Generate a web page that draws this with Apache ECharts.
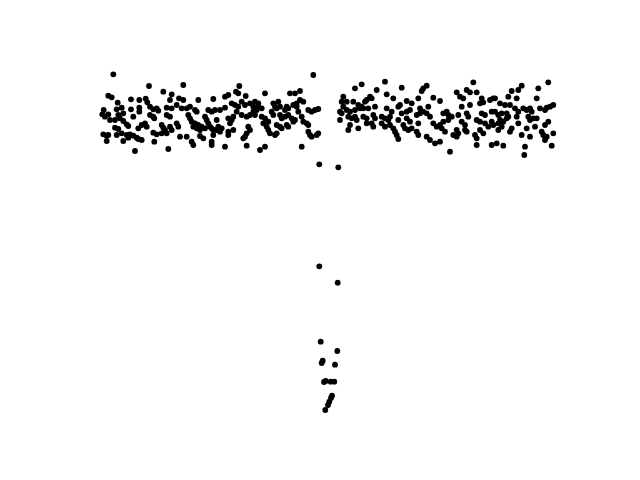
<!DOCTYPE html>
<html>
<head>
<meta charset="utf-8">
<script src="https://cdn.jsdelivr.net/npm/echarts@6/dist/echarts.min.js"></script>
<style>
  html, body { margin: 0; padding: 0; background: #fff; }
  #chart { width: 640px; height: 480px; }
</style>
</head>
<body>
<div id="chart"></div>
<script>
// time from mid-transit (min) and relative flux (ppt)
const beforeTransit = [
  [-214.7, 38.7], [-179, 27], [-219.7, 17.3], [-216.3, 15.7], [-164.7, 21.3], [-156.3, 18.7],
  [-210.3, 10.3], [-197, 13.7], [-188.7, 13], [-182.3, 14.3], [-180.7, 10.7], [-158, 13],
  [-224.3, 3], [-225.7, -1.3], [-223, -3.7], [-219.7, -1.3], [-211.3, 3.7], [-206.3, 5.3],
  [-209.7, -2], [-204.7, -0.3], [-197, 3.7], [-194.7, -3.7], [-188.7, 5.3], [-188.7, 1.3],
  [-178, 6.3], [-174.7, 3.7], [-171.3, 4.7], [-169.7, 2.3], [-161.3, 5.3], [-156.3, 4.7],
  [-178, -2], [-174.7, -3.7], [-173.7, -5.3], [-161.3, -2], [-158, -3.7], [-218, -7],
  [-213, -7], [-208, -5.3], [-204.7, -8], [-201.3, -11.3], [-199.7, -13], [-186.3, -12],
  [-183, -10.3], [-181.3, -13.7], [-189.7, -15.3], [-213, -14.7], [-209.7, -16], [-166.3, -12],
  [-164.7, -14.7], [-163, -17], [-161.3, -20.3], [-166.3, -20.3], [-158, -13.7], [-156.3, -17],
  [-224.7, -21.3], [-221.3, -22.7], [-219.7, -22], [-211.3, -22], [-206.3, -20.3], [-201.3, -22],
  [-198, -21.3], [-194.7, -22.7], [-191.3, -24.7], [-189.7, -26], [-174.7, -19.7], [-171.3, -21.3],
  [-221.3, -28], [-204.7, -28], [-199.7, -24.7], [-186.3, -27], [-173.7, -28.7], [-193, -38],
  [-159.7, -36],
  [-144.7, 28], [-88.7, 27], [-92, 21.3], [-89.7, 19.7], [-82.3, 17], [-99.7, 18],
  [-103, 16.3], [-114.7, 14], [-129.7, 13], [-149, 14.7], [-144.7, 13], [-151.3, 8],
  [-146.3, 4.7], [-141.3, 4.7], [-138, 6.3], [-133, 3], [-131.3, 1.3], [-119.7, 3],
  [-116.3, 1.3], [-113, 3], [-108, 3], [-103, 5.3], [-96.3, 9.7], [-93, 8],
  [-89.7, 6.3], [-86.3, 11.3], [-83, 8], [-78, 9.7], [-74.7, 6.3], [-139.7, -2],
  [-138, -5.3], [-136.3, -8.7], [-133, -10.3], [-129.7, -12], [-126.3, -13.7], [-123, -3.7],
  [-121.3, -7], [-119.7, -10.3], [-118, -13.7], [-116.3, -15.3], [-111.3, -7], [-109.7, -13.7],
  [-106.3, -15.3], [-99.7, -5.3], [-96.3, -7], [-94.7, -3.7], [-98, -10.3], [-91.3, 1.3],
  [-86.3, -2], [-81.3, -3.7], [-78, -2], [-74.7, 1.3], [-151.3, -10.3], [-149.7, -13.7],
  [-134.7, -13.7], [-131.3, -15.3], [-128, -17], [-123, -15.3], [-114.7, -17], [-111.3, -17],
  [-108, -18.7], [-114.7, -22], [-99.7, -18.7], [-94.7, -17], [-99.7, -22], [-79.7, -13.7],
  [-78, -17], [-81.3, -20.3], [-83, -23.7], [-84.7, -25.3], [-148, -23.7], [-141.3, -23.7],
  [-128, -23], [-124.7, -25.3], [-136.3, -28.7], [-134.7, -32], [-116.3, -28.7], [-116.3, -32],
  [-103, -33.7], [-81.3, -32.7],
  [-14.7, 38], [-63, 19.7], [-38, 19.7], [-33, 19.7], [-28, 22], [-73, 11.3],
  [-69.7, 9.7], [-49.7, 11.3], [-54.7, 9.7], [-53, 6.3], [-28, 13], [-24.7, 11.3],
  [-31.3, 9.7], [-69.7, 6.3], [-66.3, 4.7], [-71.3, 3], [-73, -2], [-51.3, 4.7],
  [-48, 6.3], [-41.3, 6.3], [-39.7, 4.7], [-43, 3], [-34.7, 8], [-31.3, 6.3],
  [-29.7, 1.3], [-19.7, 3], [-16.3, 1.3], [-13, 3], [-9.7, 4], [-56.3, 1.3],
  [-54.7, -2], [-66.3, -3.7], [-63, -5.3], [-59.7, -8.7], [-64.7, -10.3], [-61.3, -13.7],
  [-48, -2], [-46.3, -5.3], [-43, -3.7], [-39.7, -2], [-36.3, -5.3], [-33, -7],
  [-34.7, -8.7], [-26.3, -3.7], [-24.7, -8.7], [-21.3, -10.3], [-19.7, -12], [-51.3, -12],
  [-48, -13.7], [-46.3, -15.3], [-41.3, -12], [-39.7, -13.7], [-59.7, -17], [-58, -20.3],
  [-53, -22], [-51.3, -20.3], [-19.7, -18.7], [-18, -22], [-16.3, -23.7], [-9.7, -20.3],
  [-11.3, -22], [-68, -37], [-63, -33.7], [-26.3, -33.7]
]

const inTransit = [
  [-8.7, -51.3], [10.3, -54.3], [-8.7, -153.3], [9.7, -169.7], [-7.3, -228.7], [9.3, -238],
  [-5.3, -247.7], [-6.3, -250], [7, -251.7], [-2.3, -268], [2.7, -268.7], [6.3, -268.7],
  [-4, -269], [4, -282.7], [3, -285], [1.3, -288.7], [0, -292], [-2.7, -297]
]

const afterTransit = [
  [33.7, 28.7], [27, 24.7], [57, 31.3], [73.7, 25.3], [48.7, 23], [58.7, 18.7],
  [15.3, 16.3], [18.7, 11.3], [13.7, 11.3], [15.3, 6.3], [38.7, 13], [42, 16.3],
  [43.7, 14.7], [37, 11.3], [25.3, 11.3], [30.3, 8], [33.7, 6.3], [65.3, 14.7],
  [78.7, 12], [83.7, 9.7], [70.3, 6.3], [72, 8], [47, 6.3], [12, 1.3],
  [13.7, -0.3], [18.7, 3], [22, 1.3], [27, 3], [32, 4.7], [35.3, 4.7],
  [40.3, 4.7], [58.7, 4.7], [63.7, 1.3], [73.7, -0.3], [78.7, 1.3], [82, 3],
  [12, -7], [20.3, -3.7], [23.7, -5.3], [27, -3.7], [28.7, -7], [35.3, -3.7],
  [38.7, -5.3], [45.3, -2], [47, -5.3], [53.7, -3.7], [57, -5.3], [60.3, -7],
  [62, -3.7], [70.3, -7], [78.7, -5.3], [82, -8.7], [22, -12], [30.3, -15.3],
  [38.7, -10.3], [43.7, -10.3], [45.3, -13.7], [53.7, -10.3], [57, -13.7], [62, -12],
  [65.3, -15.3], [67, -18.7], [75.3, -12], [77, -15.3], [80.3, -17], [83.7, -15.3],
  [20.3, -17], [68.7, -22], [70.3, -26],
  [98.7, 27.3], [95.3, 24.7], [93.7, 22], [145.3, 30.7], [138.7, 23], [142, 20.7],
  [148.7, 20.7], [128.7, 20.7], [132, 16.3], [90.3, 14.7], [105.3, 15.3], [112, 12],
  [135.3, 14.7], [153.7, 14.7], [155.3, 10.7], [152, 9.7], [162, 13], [165.3, 14.7],
  [100.3, 6.3], [92, 4.7], [133.7, 6.3], [142, 8], [88.7, -2], [92, -0.3],
  [95.3, 1.3], [98.7, -0.3], [102, -3.7], [115.3, -0.3], [118.7, 1.3], [120.3, -2],
  [123.7, -3.7], [130.3, -2], [138.7, -0.3], [140.3, -3.7], [153.7, -0.3], [157, -2],
  [163.7, 1.3], [90.3, -10.3], [105.3, -10.3], [108.7, -13.7], [112, -12], [115.3, -8.7],
  [120.3, -7], [133.7, -8.7], [137, -12], [148.7, -7], [152, -8.7], [157, -10.3],
  [160.3, -13.7], [163.7, -8.7], [165.3, -12], [113.7, -15.3], [117, -18.7], [128.7, -17],
  [130.3, -20.3], [137, -17], [138.7, -18.7], [128.7, -23.7], [125.3, -22], [88.7, -18.7],
  [90.3, -22], [98.7, -23.7], [102, -27], [107, -30.3], [112, -28.7], [147, -22],
  [148.7, -25.3], [152, -17], [155.3, -20.3], [148.7, -32], [163.7, -32], [122, -38.7],
  [220.3, 30.7], [210.3, 24.7], [193.7, 27.3], [190.3, 23], [183.7, 22], [180.3, 16.3],
  [188.7, 14.7], [208.7, 14.7], [167, 14.7], [172, 9.7], [177, 8], [182, 8],
  [225.3, 8], [222, 6.3], [218.7, 5.3], [217, 3], [187, 4.7], [190.3, 1.3],
  [195.3, 4.7], [198.7, 3], [202, 4.7], [203.7, 1.3], [212, 4.7], [167, 1.3],
  [170.3, -2], [173.7, -0.3], [178.7, -0.3], [180.3, -3.7], [172, -7], [175.3, -8.7],
  [170.3, -10.3], [173.7, -13.7], [170.3, -17], [178.7, -5.3], [188.7, -3.7], [200.3, -3.7],
  [202, -7], [205.3, -5.3], [208.7, -5.3], [183.7, -15.3], [182, -18.7], [190.3, -10.3],
  [198.7, -15.3], [207, -13.7], [217, -12], [220.3, -8.7], [213.7, -18.7], [215.3, -22],
  [218.7, -23.7], [225.3, -20.3], [193.7, -22], [202, -23.7], [217, -27], [223.7, -32.7],
  [168.7, -30.3], [175.3, -32.7], [197, -33.7], [196.3, -42]
]

const chart = echarts.init(document.getElementById('chart'))

const hiddenAxis = {
    show: false,
    splitLine: { show: false },
    axisLine: { show: false },
    axisTick: { show: false },
    axisLabel: { show: false }
}

const dotSeries = (data) => ({
    type: 'scatter',
    data: data,
    symbol: 'circle',
    symbolSize: 5.8,
    itemStyle: { color: '#000', opacity: 1 },
    silent: true,
    animation: false
})

chart.setOption({
    animation: false,
    grid: { left: 80, right: 64, top: 57.6, bottom: 52.8 },
    xAxis: Object.assign({ type: 'value', min: -248, max: 248 }, hiddenAxis),
    yAxis: Object.assign({ type: 'value', min: -314.2, max: 55.4 }, hiddenAxis),
    series: [
        dotSeries(beforeTransit),
        dotSeries(inTransit),
        dotSeries(afterTransit)
    ]
})
</script>
</body>
</html>
